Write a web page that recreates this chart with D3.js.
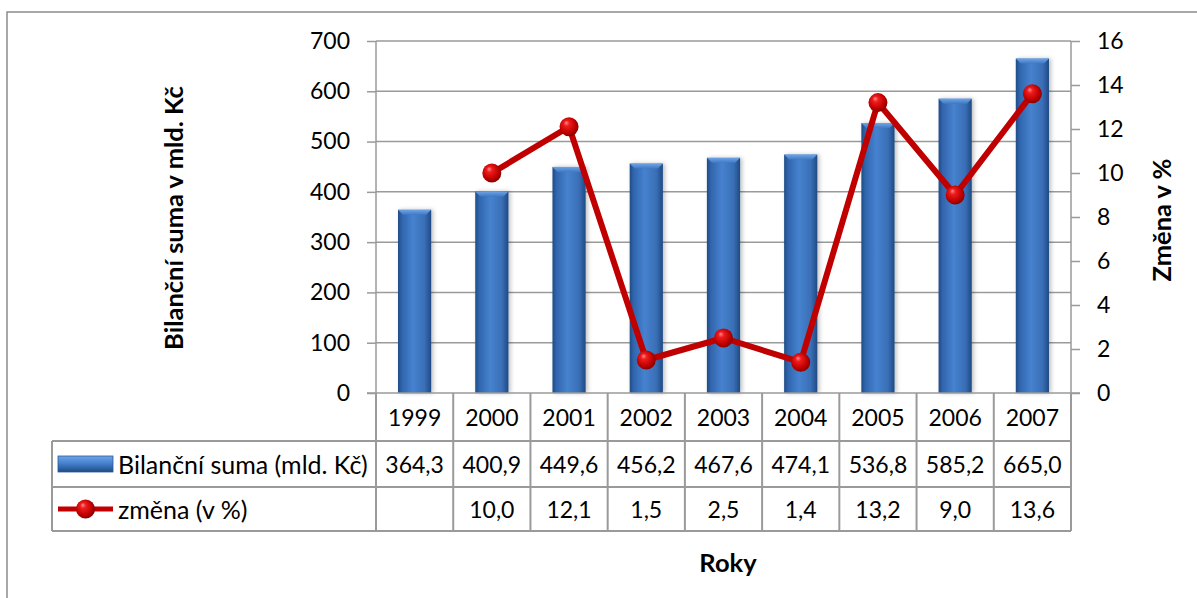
<!DOCTYPE html>
<html>
<head>
<meta charset="utf-8">
<script src="https://cdn.jsdelivr.net/npm/d3@7"></script>
<style>
  html, body { margin: 0; padding: 0; background: #fff; }
  svg { display: block; font-family: Lato, "Open Sans", sans-serif; }
</style>
</head>
<body>
<svg id="chart" width="1197" height="598"></svg>
<script>
// Data
const years = ["1999", "2000", "2001", "2002", "2003", "2004", "2005", "2006", "2007"];
const bilancniSuma = [364.3, 400.9, 449.6, 456.2, 467.6, 474.1, 536.8, 585.2, 665.0];
const zmena = [null, 10.0, 12.1, 1.5, 2.5, 1.4, 13.2, 9.0, 13.6];
const leftTicks = [0, 100, 200, 300, 400, 500, 600, 700];
const rightTicks = [0, 2, 4, 6, 8, 10, 12, 14, 16];
const seriesNames = ["Bilanční suma (mld. Kč)", "změna (v %)"];
const fmt = v => v == null ? "" : v.toFixed(1).replace(".", ",");

const svg = d3.select("#chart");
const W = 1197, H = 598;
const plot = { left: 376, right: 1071, top: 41, bottom: 393 };
const gridColor = "#9a9a9a";
const numSize = 23;     // digits in axes and table
const labelSize = 25;   // series names in the table
const titleSize = 25.5; // axis titles

// Defs: gradients
const defs = svg.append("defs");
const barGrad = defs.append("linearGradient").attr("id", "barGrad")
  .attr("x1", "0").attr("x2", "1").attr("y1", "0").attr("y2", "0");
[["0%", "#1f4c86"], ["12%", "#3065ad"], ["45%", "#4682cf"], ["80%", "#3a6fb6"], ["100%", "#1e4a84"]]
  .forEach(([o, c]) => barGrad.append("stop").attr("offset", o).attr("stop-color", c));
const bevelGrad = defs.append("linearGradient").attr("id", "bevelGrad")
  .attr("x1", "0").attr("x2", "0").attr("y1", "0").attr("y2", "1");
[["0%", "#6fa3e6"], ["100%", "#3f79c4"]]
  .forEach(([o, c]) => bevelGrad.append("stop").attr("offset", o).attr("stop-color", c));
const legBarGrad = defs.append("linearGradient").attr("id", "legBarGrad")
  .attr("x1", "0").attr("x2", "0").attr("y1", "0").attr("y2", "1");
[["0%", "#6fa3e6"], ["45%", "#4682cf"], ["100%", "#1e4a84"]]
  .forEach(([o, c]) => legBarGrad.append("stop").attr("offset", o).attr("stop-color", c));
const ballGrad = defs.append("radialGradient").attr("id", "ballGrad")
  .attr("cx", "45%").attr("cy", "45%").attr("r", "60%").attr("fx", "35%").attr("fy", "28%");
[["0%", "#ff8a8a"], ["25%", "#ee1c1c"], ["70%", "#c00000"], ["100%", "#7a0000"]]
  .forEach(([o, c]) => ballGrad.append("stop").attr("offset", o).attr("stop-color", c));
const shadow = defs.append("filter").attr("id", "shadow").attr("x", "-30%").attr("y", "-10%")
  .attr("width", "160%").attr("height", "120%");
shadow.append("feDropShadow").attr("dx", 2).attr("dy", 0).attr("stdDeviation", 2)
  .attr("flood-color", "#000").attr("flood-opacity", 0.25);

// Outer frame
svg.append("rect").attr("x", 7).attr("y", 12).attr("width", W + 10).attr("height", H + 10)
  .attr("fill", "none").attr("stroke", "#8c8c8c").attr("stroke-width", 1.5);

// Scales
const x = d3.scaleBand().domain(years).range([plot.left, plot.right]).padding(0);
const yL = d3.scaleLinear().domain([0, 700]).range([plot.bottom, plot.top]);
const yR = d3.scaleLinear().domain([0, 16]).range([plot.bottom, plot.top]);
const barW = x.bandwidth() * 0.43;

// Gridlines
svg.append("g").selectAll("line").data(leftTicks.filter(t => t > 0)).join("line")
  .attr("x1", plot.left).attr("x2", plot.right)
  .attr("y1", d => yL(d)).attr("y2", d => yL(d))
  .attr("stroke", gridColor).attr("stroke-width", 1.5);

// Axes
const axL = svg.append("g").attr("transform", `translate(${plot.left},0)`)
  .call(d3.axisLeft(yL).tickValues(leftTicks).tickSize(9).tickPadding(17).tickFormat(d3.format("d")));
const axR = svg.append("g").attr("transform", `translate(${plot.right},0)`)
  .call(d3.axisRight(yR).tickValues(rightTicks).tickSize(9).tickPadding(17).tickFormat(d3.format("d")));
[axL, axR].forEach(a => {
  a.select(".domain").attr("stroke", gridColor).attr("stroke-width", 1.5)
    .attr("d", `M0,${plot.top}V${plot.bottom}`);
  a.selectAll(".tick line").attr("stroke", gridColor).attr("stroke-width", 1.5);
  a.selectAll(".tick text").attr("fill", "#000").style("font-size", numSize + "px")
    .style("font-family", "Lato, sans-serif");
});

// Bars
const bars = svg.append("g");
bars.selectAll("rect").data(years).join("rect")
  .attr("x", d => x(d) + (x.bandwidth() - barW) / 2)
  .attr("width", barW)
  .attr("y", (d, i) => yL(bilancniSuma[i]))
  .attr("height", (d, i) => plot.bottom - yL(bilancniSuma[i]))
  .attr("fill", "url(#barGrad)")
  .attr("filter", "url(#shadow)");
// top bevel of each bar
bars.selectAll("path").data(years).join("path")
  .attr("d", (d, i) => {
    const x0 = x(d) + (x.bandwidth() - barW) / 2, x1 = x0 + barW, y0 = yL(bilancniSuma[i]);
    const b = 5;
    return `M${x0},${y0}H${x1}L${x1 - b},${y0 + b}H${x0 + b}Z`;
  })
  .attr("fill", "url(#bevelGrad)");

// Bottom axis line
svg.append("line").attr("x1", plot.left - 9).attr("x2", plot.right + 9)
  .attr("y1", plot.bottom).attr("y2", plot.bottom)
  .attr("stroke", gridColor).attr("stroke-width", 1.5);

// Line series
const pts = years.map((d, i) => ({ year: d, v: zmena[i] })).filter(p => p.v != null);
const line = d3.line().x(p => x(p.year) + x.bandwidth() / 2).y(p => yR(p.v));
svg.append("path").datum(pts).attr("d", line)
  .attr("fill", "none").attr("stroke", "#c00000").attr("stroke-width", 6)
  .attr("stroke-linejoin", "round");
svg.append("g").selectAll("circle").data(pts).join("circle")
  .attr("cx", p => x(p.year) + x.bandwidth() / 2).attr("cy", p => yR(p.v))
  .attr("r", 9.5).attr("fill", "url(#ballGrad)");

// Data table
const rows = { r0: plot.bottom, r1: 441, r2: 487, r3: 531 };
const tableLeft = 52;
const tbl = svg.append("g");
const tline = (x1, y1, x2, y2) => tbl.append("line")
  .attr("x1", x1).attr("y1", y1).attr("x2", x2).attr("y2", y2)
  .attr("stroke", gridColor).attr("stroke-width", 2);
// horizontal lines
tline(tableLeft, rows.r1, plot.right, rows.r1);
tline(tableLeft, rows.r2, plot.right, rows.r2);
tline(tableLeft, rows.r3, plot.right, rows.r3);
// vertical lines
tline(tableLeft, rows.r1, tableLeft, rows.r3);
years.forEach(y => tline(x(y), rows.r0, x(y), rows.r3));
tline(plot.right, rows.r0, plot.right, rows.r3);

const cellText = (txt, cx, cy) => tbl.append("text").attr("x", cx).attr("y", cy)
  .attr("text-anchor", "middle").attr("dominant-baseline", "central")
  .style("font-size", numSize + "px").attr("fill", "#000").text(txt);
years.forEach((y, i) => {
  const cx = x(y) + x.bandwidth() / 2;
  cellText(y, cx, (rows.r0 + rows.r1) / 2);
  cellText(fmt(bilancniSuma[i]), cx, (rows.r1 + rows.r2) / 2);
  cellText(fmt(zmena[i]), cx, (rows.r2 + rows.r3) / 2);
});

// Legend keys in the table
const k1y = (rows.r1 + rows.r2) / 2, k2y = (rows.r2 + rows.r3) / 2;
tbl.append("rect").attr("x", 58).attr("y", k1y - 8).attr("width", 55).attr("height", 16)
  .attr("fill", "url(#legBarGrad)").attr("stroke", "#2a5a98").attr("stroke-width", 0.8);
tbl.append("line").attr("x1", 58).attr("x2", 113).attr("y1", k2y).attr("y2", k2y)
  .attr("stroke", "#c00000").attr("stroke-width", 5);
tbl.append("circle").attr("cx", 85.5).attr("cy", k2y).attr("r", 9.5).attr("fill", "url(#ballGrad)");
tbl.append("text").attr("x", 118).attr("y", k1y).attr("dominant-baseline", "central")
  .style("font-size", labelSize + "px").text(seriesNames[0]);
tbl.append("text").attr("x", 118).attr("y", k2y).attr("dominant-baseline", "central")
  .style("font-size", labelSize + "px").text(seriesNames[1]);

// Axis titles
svg.append("text").attr("transform", `translate(173,218) rotate(-90)`)
  .attr("text-anchor", "middle").attr("dominant-baseline", "central")
  .style("font-size", titleSize + "px").style("font-weight", "bold").text("Bilanční suma v mld. Kč");
svg.append("text").attr("transform", `translate(1161,220) rotate(-90)`)
  .attr("text-anchor", "middle").attr("dominant-baseline", "central")
  .style("font-size", titleSize + "px").style("font-weight", "bold").text("Změna v %");
svg.append("text").attr("x", 728).attr("y", 562)
  .attr("text-anchor", "middle").attr("dominant-baseline", "central")
  .style("font-size", titleSize + "px").style("font-weight", "bold").text("Roky");
</script>
</body>
</html>
